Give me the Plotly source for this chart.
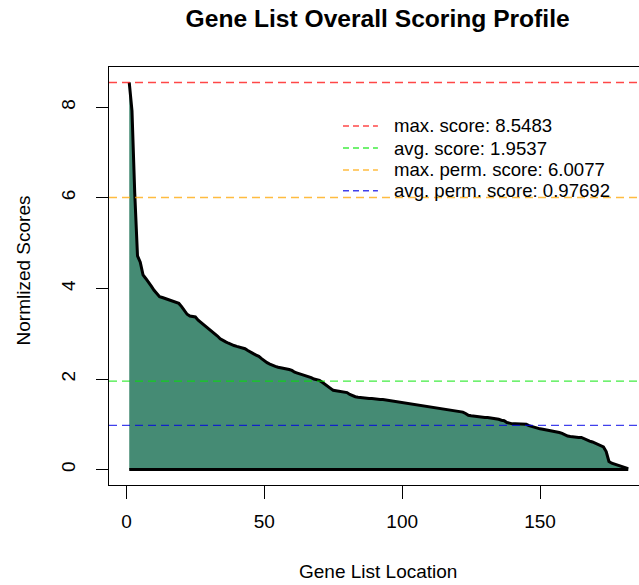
import plotly.graph_objects as go

# Sorted normalized scores along the gene list
scores = [
    8.548, 7.92, 6.10, 4.72, 4.58, 4.30, 4.22, 4.12, 4.05, 3.96,
    3.90, 3.82, 3.80, 3.78, 3.76, 3.74, 3.72, 3.70, 3.67, 3.60,
    3.50, 3.43, 3.39, 3.38, 3.37, 3.30, 3.25, 3.21, 3.17, 3.12,
    3.06, 3.01, 2.95, 2.89, 2.85, 2.82, 2.79, 2.76, 2.74, 2.72,
    2.70, 2.68, 2.67, 2.63, 2.59, 2.56, 2.53, 2.50, 2.45, 2.40,
    2.36, 2.33, 2.30, 2.28, 2.26, 2.25, 2.24, 2.23, 2.21, 2.19,
    2.15, 2.13, 2.11, 2.10, 2.07, 2.05, 2.03, 2.00, 1.98, 1.97,
    1.93, 1.88, 1.84, 1.79, 1.75, 1.74, 1.73, 1.72, 1.71, 1.70,
    1.66, 1.63, 1.61, 1.60, 1.59, 1.59, 1.58, 1.57, 1.57, 1.56,
    1.56, 1.55, 1.55, 1.54, 1.53, 1.52, 1.51, 1.50, 1.50, 1.49,
    1.48, 1.47, 1.46, 1.45, 1.44, 1.42, 1.41, 1.40, 1.39, 1.38,
    1.37, 1.36, 1.35, 1.34, 1.34, 1.33, 1.32, 1.31, 1.30, 1.29,
    1.28, 1.27, 1.24, 1.20, 1.19, 1.18, 1.17, 1.16, 1.16, 1.15,
    1.15, 1.14, 1.14, 1.12, 1.11, 1.09, 1.08, 1.04, 1.02, 1.01,
    1.01, 1.01, 1.01, 1.01, 1.00, 0.97, 0.95, 0.93, 0.91, 0.90,
    0.89, 0.88, 0.87, 0.86, 0.85, 0.84, 0.82, 0.80, 0.77, 0.74,
    0.73, 0.72, 0.72, 0.71, 0.71, 0.68, 0.66, 0.63, 0.61, 0.58,
    0.56, 0.53, 0.50, 0.40, 0.18, 0.14, 0.12, 0.10, 0.07, 0.05,
    0.03, 0.02,
]
locations = list(range(1, len(scores) + 1))

ref_names = ["max. score", "avg. score", "max. perm. score", "avg. perm. score"]
ref_values = [8.5483, 1.9537, 6.0077, 0.97692]
ref_labels = ["8.5483", "1.9537", "6.0077", "0.97692"]
ref_colors = ["rgba(255,0,0,0.72)", "rgba(0,230,0,0.75)",
              "rgba(255,165,0,0.75)", "rgba(0,0,230,0.75)"]

x_ticks = [0, 50, 100, 150]
y_ticks = [0, 2, 4, 6, 8]

FONT = "Liberation Sans, Arial, Helvetica, sans-serif"
FILL = "#458B74"

fig = go.Figure()

# filled area under the profile
fig.add_trace(go.Scatter(
    x=[locations[0]] + locations + [locations[-1]],
    y=[0] + scores + [0],
    fill="toself", fillcolor=FILL, mode="none",
    hoverinfo="skip", showlegend=False,
))
# baseline
fig.add_trace(go.Scatter(
    x=[locations[0], locations[-1]], y=[0, 0], mode="lines",
    line=dict(color="black", width=3), showlegend=False, hoverinfo="skip",
))
# profile curve
fig.add_trace(go.Scatter(
    x=locations, y=scores, mode="lines",
    line=dict(color="black", width=3), showlegend=False,
))

shapes = []
annotations = []
# reference horizontal lines
for v, c in zip(ref_values, ref_colors):
    shapes.append(dict(type="line", xref="paper", x0=0, x1=1, yref="y", y0=v, y1=v,
                       line=dict(color=c, width=1.4, dash="8px,5px"), layer="above"))

# manual R-style legend (no box)
leg_rows = [0.8589, 0.8062, 0.7536, 0.7041]
for name, lab, c, yy in zip(ref_names, ref_labels, ref_colors, leg_rows):
    shapes.append(dict(type="line", xref="paper", yref="paper", x0=0.4415, x1=0.5074,
                       y0=yy, y1=yy, line=dict(color=c, width=1.4, dash="6px,4px")))
    annotations.append(dict(xref="paper", yref="paper", x=0.5335, y=yy,
                            xanchor="left", yanchor="middle", showarrow=False,
                            text=f"{name}: {lab}",
                            font=dict(family=FONT, size=18.6, color="black")))

# axis titles (R-style placement)
annotations.append(dict(xref="paper", yref="paper", x=0.508, y=0, yshift=-86,
                        xanchor="center", yanchor="middle", showarrow=False,
                        text="Gene List Location",
                        font=dict(family=FONT, size=19, color="black")))
annotations.append(dict(xref="paper", yref="paper", x=0, y=0.512, xshift=-85.5,
                        xanchor="center", yanchor="middle", showarrow=False,
                        textangle=-90, text="Normlized Scores",
                        font=dict(family=FONT, size=19, color="black")))

fig.update_layout(
    width=639, height=585,
    margin=dict(l=108.5, r=0, t=67, b=100, autoexpand=False),
    paper_bgcolor="white", plot_bgcolor="white",
    font=dict(family=FONT, size=19, color="black"),
    title=dict(text="<b>Gene List Overall Scoring Profile</b>",
               x=0.591, xref="container", xanchor="center",
               y=0.968, yref="container", yanchor="middle",
               font=dict(family=FONT, size=24.6, color="black")),
    shapes=shapes, annotations=annotations,
    showlegend=False,
)

fig.update_xaxes(
    range=[-6.34, 185.9], showgrid=False, zeroline=False, automargin=False,
    showline=True, linecolor="black", linewidth=1, mirror=True,
    ticks="outside", ticklen=13, tickcolor="black", tickwidth=1,
    ticklabelstandoff=6,
    tickvals=x_ticks, ticktext=[str(t) for t in x_ticks],
    tickfont=dict(family=FONT, size=19, color="black"),
)
fig.update_yaxes(
    range=[-0.34, 8.89], showgrid=False, zeroline=False, automargin=False,
    showline=True, linecolor="black", linewidth=1, mirror=False,
    ticks="outside", ticklen=12, tickcolor="black", tickwidth=1,
    ticklabelstandoff=13,
    tickvals=y_ticks, ticktext=[str(t) for t in y_ticks], tickangle=-90,
    tickfont=dict(family=FONT, size=19, color="black"),
)

fig.write_html(
    "out.html",
    config={"displayModeBar": False},
    post_script="document.body.style.margin='0';document.body.style.overflow='hidden';",
)
